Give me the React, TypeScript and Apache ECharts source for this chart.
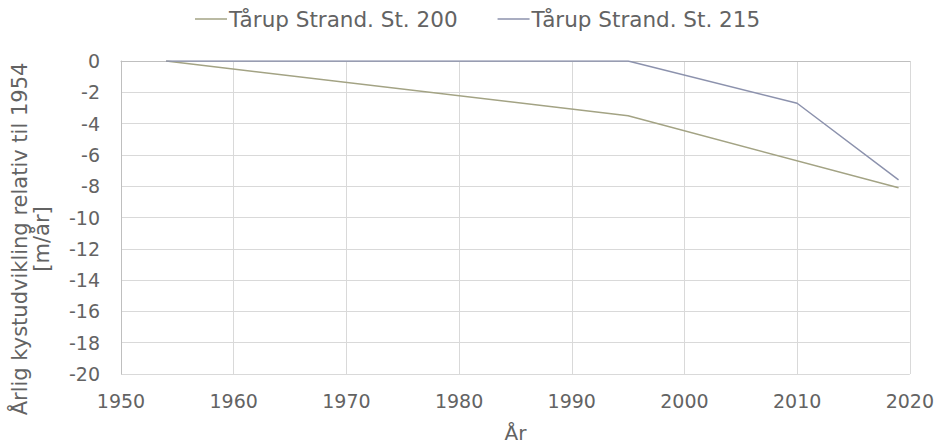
import React, { useEffect, useRef } from "react";
import * as echarts from "echarts";

const years200 = [1954, 1995, 2019];
const values200 = [0, -3.5, -8.1];
const years215 = [1954, 1995, 2010, 2019];
const values215 = [0, 0, -2.7, -7.6];
const seriesNames = ["Tårup Strand. St. 200", "Tårup Strand. St. 215"];
const yAxisTitle = "Årlig kystudvikling relativ til 1954\n[m/år]";
const xAxisTitle = "År";

const FONT = "'DejaVu Sans', Verdana, sans-serif";
const TXT = "#636363";

export default function App() {
  const ref = useRef<HTMLDivElement>(null);
  useEffect(() => {
    if (!ref.current) return;
    const chart = echarts.init(ref.current, undefined, { renderer: "svg" });
    chart.setOption({
      animation: false,
      backgroundColor: "#ffffff",
      textStyle: { fontFamily: FONT, color: TXT },
      legend: {
        top: 3,
        left: 190,
        itemWidth: 32,
        itemHeight: 1.5,
        itemGap: 40,
        icon: "rect",
        textStyle: { fontFamily: FONT, fontSize: 21.5, color: TXT, padding: [0, 0, 0, -3] },
        data: seriesNames,
      },
      grid: { left: 121, right: 27, top: 61, bottom: 66, containLabel: false },
      xAxis: {
        type: "value",
        min: 1950,
        max: 2020,
        interval: 10,
        name: xAxisTitle,
        nameLocation: "middle",
        nameGap: 49,
        nameTextStyle: { fontFamily: FONT, fontSize: 20, color: TXT },
        axisLine: { show: true, lineStyle: { color: "#bfbfbf" } },
        axisTick: { show: false },
        axisLabel: {
          fontFamily: FONT,
          fontSize: 19,
          color: TXT,
          margin: 17,
          formatter: (v: number) => String(v),
        },
        splitLine: { show: true, lineStyle: { color: "#d9d9d9" } },
      },
      yAxis: {
        type: "value",
        min: -20,
        max: 0,
        interval: 2,
        axisLine: { show: true, lineStyle: { color: "#bfbfbf" } },
        axisTick: { show: false },
        axisLabel: { fontFamily: FONT, fontSize: 19, color: TXT, margin: 21 },
        splitLine: { show: true, lineStyle: { color: "#d9d9d9" } },
      },
      graphic: [
        {
          type: "text",
          x: 31,
          y: 239,
          rotation: Math.PI / 2,
          style: {
            text: yAxisTitle,
            fontFamily: FONT,
            fontSize: 21,
            fill: TXT,
            align: "center",
            verticalAlign: "middle",
            lineHeight: 22,
          },
        },
      ],
      series: [
        {
          name: seriesNames[0],
          type: "line",
          data: years200.map((y, i) => [y, values200[i]]),
          showSymbol: false,
          symbol: "none",
          lineStyle: { color: "#a3a384", width: 1.5 },
          itemStyle: { color: "#a3a384" },
          z: 2,
        },
        {
          name: seriesNames[1],
          type: "line",
          data: years215.map((y, i) => [y, values215[i]]),
          showSymbol: false,
          symbol: "none",
          lineStyle: { color: "#8c92ad", width: 1.5 },
          itemStyle: { color: "#8c92ad" },
          z: 3,
        },
      ],
    });
    return () => chart.dispose();
  }, []);
  return (
    <div
      ref={ref}
      style={{ position: "fixed", left: 0, top: 0, width: 937, height: 448, background: "#fff" }}
    />
  );
}
